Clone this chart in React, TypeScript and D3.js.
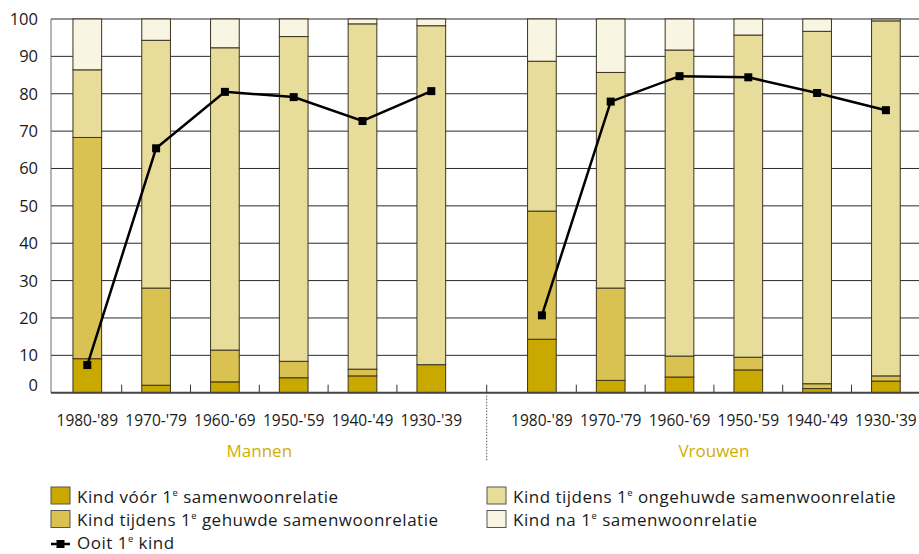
import React from "react";
import * as d3 from "d3";

const cohorts = ["1980-'89", "1970-'79", "1960-'69", "1950-'59", "1940-'49", "1930-'39"];
const groups = ["Mannen", "Vrouwen"];
const seriesNames = [
  "Kind vóór 1e samenwoonrelatie",
  "Kind tijdens 1e gehuwde samenwoonrelatie",
  "Kind tijdens 1e ongehuwde samenwoonrelatie",
  "Kind na 1e samenwoonrelatie",
];
const lineName = "Ooit 1e kind";

// Mannen
const menVoor = [9.1, 2.0, 2.9, 4.0, 4.5, 7.5];
const menGehuwd = [59.2, 26.0, 8.5, 4.4, 1.8, 0];
const menOngehuwd = [18.1, 66.3, 80.9, 86.9, 92.4, 90.7];
const menNa = [13.6, 5.7, 7.7, 4.7, 1.3, 1.8];
const menOoit = [7.4, 65.4, 80.5, 79.1, 72.7, 80.7];

// Vrouwen
const womenVoor = [14.3, 3.3, 4.2, 6.1, 1.1, 3.1];
const womenGehuwd = [34.3, 24.7, 5.6, 3.4, 1.3, 1.4];
const womenOngehuwd = [40.1, 57.7, 81.9, 86.2, 94.3, 95.0];
const womenNa = [11.3, 14.3, 8.3, 4.3, 3.3, 0.5];
const womenOoit = [20.7, 77.9, 84.7, 84.4, 80.2, 75.6];

const yTicks = [0, 10, 20, 30, 40, 50, 60, 70, 80, 90, 100];

const colors = ["#C9A800", "#D9C251", "#E8DC9A", "#F8F5E3"];
const gold = "#D2AD00";
const font = "'Open Sans', sans-serif";

const W = 919;
const H = 554;
const plotLeft = 51;
const plotRight = 919;
const y = d3.scaleLinear().domain([0, 100]).range([392.7, 19]);

const xLeft = d3.scaleBand<string>().domain(cohorts).range([52.9, 465.7]).paddingInner(0.583).paddingOuter(0.2915);
const xRight = d3.scaleBand<string>().domain(cohorts).range([507.5, 920.3]).paddingInner(0.583).paddingOuter(0.2915);

type Row = { cohort: string; v: number[]; ooit: number };

function buildRows(a: number[], b: number[], c: number[], d: number[], o: number[]): Row[] {
  return cohorts.map((cohort, i) => ({ cohort, v: [a[i], b[i], c[i], d[i]], ooit: o[i] }));
}

const groupData = [
  { name: groups[0], x: xLeft, rows: buildRows(menVoor, menGehuwd, menOngehuwd, menNa, menOoit) },
  { name: groups[1], x: xRight, rows: buildRows(womenVoor, womenGehuwd, womenOngehuwd, womenNa, womenOoit) },
];

function SupText({ text, x, yPos, size }: { text: string; x: number; yPos: number; size: number }) {
  const parts = text.split("1e");
  return (
    <text x={x} y={yPos} fontFamily={font} fontSize={size} fill="#1a1a1a" letterSpacing={0.5}>
      {parts[0]}1
      <tspan fontSize={size * 0.55} dy={-size * 0.4}>e</tspan>
      <tspan dy={size * 0.4}>{parts[1]}</tspan>
    </text>
  );
}

export default function App() {
  return (
    <svg width={W} height={H} style={{ position: "absolute", left: 0, top: 0, background: "#fff" }}>
      {/* grid */}
      {yTicks.map((t) =>
        t === 0 ? null : (
          <line key={t} x1={plotLeft} x2={plotRight} y1={y(t)} y2={y(t)} stroke="#2a2a2a" strokeWidth={1} />
        )
      )}
      {/* y axis line */}
      <line x1={plotLeft} x2={plotLeft} y1={y(100)} y2={y(0)} stroke="#6a6a6a" strokeWidth={1} />
      {/* y labels */}
      {yTicks.map((t) => (
        <text
          key={t}
          x={38}
          y={t === 0 ? y(t) - 2 : y(t) + 6}
          textAnchor="end"
          fontFamily={font}
          fontSize={16.5}
          fill="#1a1a1a"
        >
          {t}
        </text>
      ))}

      {groupData.map((g) => {
        const bw = g.x.bandwidth();
        const step = g.x.step();
        const lineGen = d3
          .line<Row>()
          .x((d) => (g.x(d.cohort) as number) + bw / 2)
          .y((d) => y(d.ooit));
        return (
          <g key={g.name}>
            {g.rows.map((r) => {
              let cum = 0;
              const x0 = g.x(r.cohort) as number;
              return (
                <g key={r.cohort}>
                  {r.v.map((v, i) => {
                    const y0 = cum;
                    cum += v;
                    if (v <= 0) return null;
                    return (
                      <rect
                        key={i}
                        x={x0}
                        width={bw}
                        y={y(cum)}
                        height={y(y0) - y(cum)}
                        fill={colors[i]}
                        stroke="#3a3520"
                        strokeWidth={1}
                      />
                    );
                  })}
                </g>
              );
            })}
            {/* inner ticks */}
            {g.rows.slice(0, -1).map((r) => {
              const tx = (g.x(r.cohort) as number) + bw / 2 + step / 2;
              return <line key={r.cohort} x1={tx} x2={tx} y1={y(0) - 8} y2={y(0)} stroke="#333" strokeWidth={1} />;
            })}
            {/* x labels */}
            {g.rows.map((r) => (
              <text
                key={r.cohort}
                x={(g.x(r.cohort) as number) + bw / 2}
                y={426}
                textAnchor="middle"
                fontFamily={font}
                fontSize={15.5}
                fill="#1a1a1a"
              >
                {r.cohort}
              </text>
            ))}
            <text
              x={(g.x.range()[0] + g.x.range()[1]) / 2}
              y={457}
              textAnchor="middle"
              fontFamily={font}
              fontSize={17}
              fill={gold}
            >
              {g.name}
            </text>
            <path d={lineGen(g.rows) || ""} fill="none" stroke="#000" strokeWidth={2.5} />
            {g.rows.map((r) => (
              <rect
                key={r.cohort}
                x={(g.x(r.cohort) as number) + bw / 2 - 4}
                y={y(r.ooit) - 4}
                width={8}
                height={8}
                fill="#000"
              />
            ))}
          </g>
        );
      })}

      {/* baseline */}
      <line x1={plotLeft} x2={plotRight} y1={y(0)} y2={y(0)} stroke="#444" strokeWidth={2} />
      {/* separator */}
      <line x1={486.7} x2={486.7} y1={y(0) - 8} y2={y(0)} stroke="#333" strokeWidth={1} />
      <line x1={486.7} x2={486.7} y1={y(0)} y2={461} stroke="#555" strokeWidth={1} strokeDasharray="1.5,1.5" />

      {/* legend */}
      {[
        { s: 0, x: 51, yy: 487 },
        { s: 1, x: 51, yy: 510.5 },
        { s: 2, x: 487, yy: 487 },
        { s: 3, x: 487, yy: 510.5 },
      ].map((l) => (
        <g key={l.s}>
          <rect x={l.x} y={l.yy} width={19} height={17} fill={colors[l.s]} stroke="#555" strokeWidth={1} />
          <SupText text={seriesNames[l.s]} x={l.x + 26} yPos={l.yy + 15.5} size={17} />
        </g>
      ))}
      <line x1={51} x2={70} y1={544} y2={544} stroke="#000" strokeWidth={2.5} />
      <rect x={56.5} y={540} width={8} height={8} fill="#000" />
      <SupText text={lineName} x={77} yPos={549} size={17} />
    </svg>
  );
}
